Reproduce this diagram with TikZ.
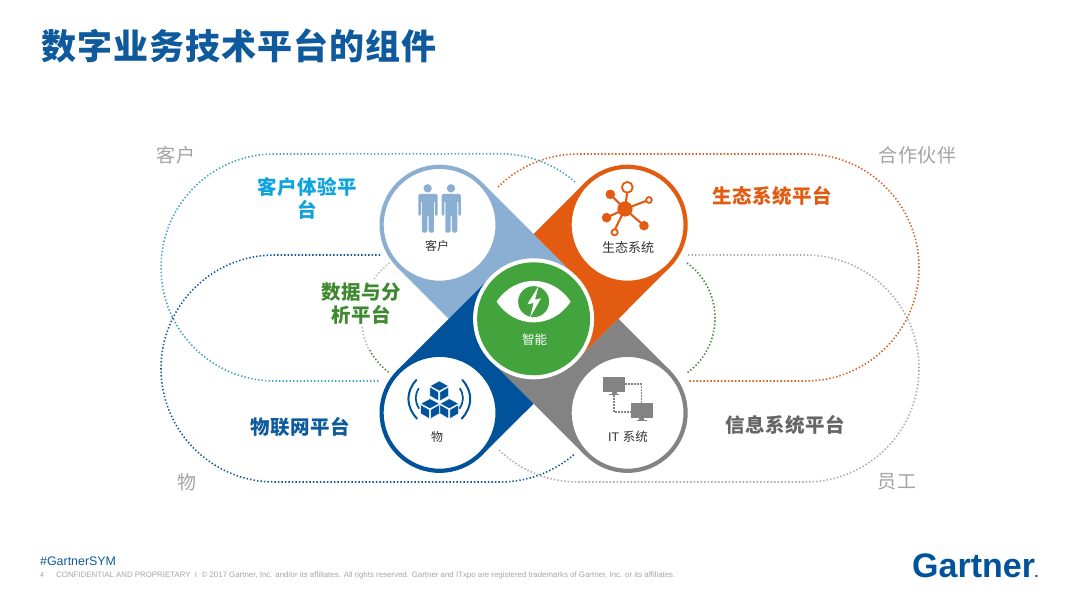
\documentclass[tikz,border=0pt]{standalone}
\usepackage{fontspec}
\setmainfont{Liberation Sans}
\newfontfamily\cjk{Noto Sans CJK SC}
\definecolor{cTeal}{HTML}{3FA5C4}
\definecolor{cSky}{HTML}{0FA3DC}
\definecolor{cLight}{HTML}{8AAFD3}
\definecolor{cOrange}{HTML}{E35B10}
\definecolor{cNavy}{HTML}{00539B}
\definecolor{cGray}{HTML}{838383}
\definecolor{cGreen}{HTML}{43A33C}
\definecolor{cDGreen}{HTML}{3F8A30}
\definecolor{cText}{HTML}{A3A3A3}
\definecolor{cTitle}{HTML}{0E5A9C}
\tikzset{
  x=1pt,y=-1pt,
  dots/.style={line width=1.6pt,dash pattern=on 1.4pt off 2.1pt},
  plat/.style={font=\cjk\bfseries\fontsize{19.5}{23}\selectfont,align=center,inner sep=0pt},
  corner/.style={font=\cjk\fontsize{19}{23}\selectfont,text=cText,inner sep=0pt},
  inring/.style={font=\cjk\fontsize{12}{14}\selectfont,text=black!80,inner sep=0pt},
  zoomed/.style={shift={(340pt,-150pt)},x=0.3333pt,y=-0.3333pt},
  cubeface/.style={fill=cNavy,draw=white,line width=0.45pt,line join=round},
}
\newcommand{\cubeat}[2]{%
  \filldraw[cubeface] (#1,#2-29)--(#1+28,#2-14)--(#1,#2+1)--(#1-28,#2-14)--cycle;
  \filldraw[cubeface] (#1-28,#2-11)--(#1-2,#2+4)--(#1-2,#2+31)--(#1-28,#2+16)--cycle;
  \filldraw[cubeface] (#1+28,#2-11)--(#1+2,#2+4)--(#1+2,#2+31)--(#1+28,#2+16)--cycle;}
\newcommand{\personat}[1]{%
  \begin{scope}[shift={(#1*0.3333pt,0pt)}]
  \fill[cLight] (263,115) circle[radius=4.2pt];
  \fill[cLight,rounded corners=1.5pt] (235,132)--(293,132)--(293,198)--(285,198)--(285,152)--(282,152)--(282,248)--(266,248)--(266,195)--(262,195)--(262,248)--(246,248)--(246,152)--(243,152)--(243,198)--(235,198)--cycle;
  \end{scope}}
\newcommand{\screenat}[2]{%
  \fill[cGray] (#1,#2) rectangle (#1+66,#2+43);
  \fill[cGray] (#1+26,#2+43) rectangle (#1+40,#2+49);
  \fill[cGray] (#1+18,#2+49) rectangle (#1+48,#2+53);}
\begin{document}
\begin{tikzpicture}
\useasboundingbox (0,0) rectangle (1080,608);
\fill[white] (0,0) rectangle (1080,608);

% geometry
\coordinate (cA) at (439.6,224.8);
\coordinate (cB) at (627.6,224.8);
\coordinate (cC) at (627.6,412.8);
\coordinate (cD) at (439.6,412.8);
\coordinate (mid) at (533.6,318.8);
\coordinate (vT) at (533.6,234);
\coordinate (vR) at (618.45,318.8);
\coordinate (vB) at (533.6,403.65);
\coordinate (vL) at (448.75,318.8);
\coordinate (mLT) at (491.2,276.4);
\coordinate (mTR) at (576,276.4);
\coordinate (mRB) at (576,361.2);
\coordinate (mBL) at (491.2,361.2);

% dotted outlines
\draw[dots,cTeal] (575,182) arc[start angle=48.7,end angle=90,radius=113.5pt] -- (274.5,154) arc[start angle=90,end angle=270,radius=113.5pt] -- (380,381);
\draw[dots,cOrange!85!gray] (498,187) arc[start angle=134.8,end angle=90,radius=113.5pt] -- (805.5,154) arc[start angle=90,end angle=-90,radius=113.5pt] -- (688,381);
\draw[dots,cNavy!85!gray] (380,255) -- (274.5,255) arc[start angle=90,end angle=270,radius=113.5pt] -- (500,482) arc[start angle=-90,end angle=-48.7,radius=113.5pt];
\draw[dots,gray!65] (688,255) -- (805.5,255) arc[start angle=90,end angle=-90,radius=113.5pt] -- (578,482) arc[start angle=-90,end angle=-134.8,radius=113.5pt];
\draw[dots,cDGreen!85!gray] (687,263) arc[start angle=54,end angle=-54,radius=68pt];
\draw[dots,cDGreen!30!gray!50] (389.7,263) arc[start angle=126,end angle=146,radius=68pt];
\draw[dots,cDGreen!35!gray!55] (362.1,327) arc[start angle=187,end angle=208,radius=68pt];
\draw[dots,cDGreen!70!gray] (369.7,350) arc[start angle=208,end angle=234,radius=68pt];

% pinwheel bands
\fill[cLight] (482,182.4) -- (vT) -- (mTR) -- (mid) -- (mLT) -- (vL) -- (397.2,267.2) -- cycle;
\fill[cOrange] (585.2,182.4) -- (vT) -- (mTR) -- (mid) -- (mRB) -- (vR) -- (670,267.2) -- cycle;
\fill[cGray] (670,370.4) -- (vR) -- (mRB) -- (mid) -- (mBL) -- (vB) -- (585.2,455.2) -- cycle;
\fill[cNavy] (482,455.2) -- (vB) -- (mBL) -- (mid) -- (mLT) -- (vL) -- (397.2,370.4) -- cycle;

% rings
\draw[cLight,fill=white,line width=4.2pt] (cA) circle[radius=58pt];
\draw[cOrange,fill=white,line width=4.2pt] (cB) circle[radius=58pt];
\draw[cGray,fill=white,line width=4.2pt] (cC) circle[radius=58pt];
\draw[cNavy,fill=white,line width=4.2pt] (cD) circle[radius=58pt];
\fill[white] (mid) circle[radius=60.5pt];
\fill[cGreen] (mid) circle[radius=56.5pt];

% icons, in a local frame
\begin{scope}[zoomed]
  % people
  \personat{0}
  \personat{70}
  % ecosystem
  \begin{scope}[cOrange]
    \draw[line width=2.1pt] (855,177) -- (862,125);
    \draw[line width=2.1pt] (855,177) -- (918,153);
    \draw[line width=2.1pt] (855,177) -- (811,133);
    \draw[line width=2.1pt] (855,177) -- (800,203);
    \draw[line width=2.1pt] (855,177) -- (912,227);
    \draw[line width=2.1pt] (855,177) -- (824,240);
    \fill (855,177) circle[radius=7.6pt];
    \fill (811,133) circle[radius=4.8pt];
    \fill (800,203) circle[radius=4.8pt];
    \fill (912,227) circle[radius=4.8pt];
    \draw[line width=1.8pt,fill=white] (862,112) circle[radius=5.4pt];
    \draw[line width=1.8pt,fill=white] (927,150) circle[radius=2.9pt];
    \draw[line width=1.8pt,fill=white] (824,247) circle[radius=3.1pt];
  \end{scope}
  % cubes and waves
  \cubeat{298}{722}
  \cubeat{270}{775}
  \cubeat{328}{775}
  \begin{scope}[cNavy,line cap=round]
    \draw[line width=2pt] (229,690) .. controls (197,725) and (197,770) .. (231,806);
    \draw[line width=1.7pt] (236,716) .. controls (224,735) and (224,755) .. (237,775);
    \draw[line width=2pt] (367,690) .. controls (399,725) and (399,770) .. (365,806);
    \draw[line width=1.7pt] (360,716) .. controls (372,735) and (372,755) .. (359,775);
  \end{scope}
  % screens
  \screenat{790}{682}
  \screenat{872}{760}
  \draw[cGray,line width=1.7pt,dash pattern=on 1.6pt off 1.4pt] (856,703) -- (905,703) -- (905,760);
  \draw[cGray,line width=1.7pt,dash pattern=on 1.6pt off 1.4pt] (822,736) -- (822,786) -- (872,786);
  % eye
  \fill[white] (470,455) .. controls (525,372) and (637,372) .. (692,455) .. controls (637,538) and (525,538) .. (470,455) -- cycle;
  \fill[cGreen] (581,455) circle[radius=15.5pt];
  \fill[white] (596,408) -- (562,463) -- (581,459) -- (570,503) -- (603,445) -- (585,449) -- cycle;
\end{scope}

% labels in the rings
\node[inring] (lA) at (437,246) {客户};
\node[inring,font=\cjk\fontsize{13}{15}\selectfont] (lB) at (628,248) {生态系统};
\node[inring] (lD) at (437,437) {物};
\node[inring,font=\fontsize{12.5}{15}\selectfont] (lC) at (628,437) {IT {\cjk 系统}};
\node[inring,text=white,font=\cjk\fontsize{12.5}{15}\selectfont] (lM) at (534.5,340) {智能};

% platform labels
\node[plat,text=cSky,text width=110pt] (p1) at (307,198.5) {\addfontfeature{LetterSpace=2.5}客户体验平\\台};
\node[plat,text=cOrange] (p2) at (772,196) {\addfontfeature{LetterSpace=2.5}生态系统平台};
\node[plat,text=cDGreen,text width=90pt] (p3) at (361,304) {\addfontfeature{LetterSpace=2}数据与分\\析平台};
\node[plat,text=cTitle] (p4) at (300,427) {\addfontfeature{LetterSpace=2.5}物联网平台};
\node[plat,text=black!60] (p5) at (785,425) {\addfontfeature{LetterSpace=2.5}信息系统平台};

% corner labels
\node[corner] (c1) at (176,155) {\addfontfeature{LetterSpace=3}客户};
\node[corner] (c2) at (917.5,155) {\addfontfeature{LetterSpace=3}合作伙伴};
\node[corner] (c3) at (187,482) {物};
\node[corner] (c4) at (897,482) {\addfontfeature{LetterSpace=3}员工};

% title
\node[anchor=center,inner sep=0pt,text=cTitle,font=\cjk\bfseries\fontsize{35}{40}\selectfont] (title) at (239,46) {\addfontfeature{LetterSpace=3}数字业务技术平台的组件};

% footer
\node[anchor=west,inner sep=0pt,text=cTitle,font=\fontsize{12.4}{14}\selectfont] (tag) at (40,561) {\#GartnerSYM};
\node[anchor=west,inner sep=0pt,text=black!35,font=\fontsize{7}{9}\selectfont] (pg) at (40,575.5) {4};
\node[anchor=west,inner sep=0pt,text=black!35,font=\fontsize{7.87}{9}\selectfont] (legal) at (56,575.5) {CONFIDENTIAL AND PROPRIETARY\ \ I\ \ © 2017 Gartner, Inc. and/or its affiliates. All rights reserved. Gartner and ITxpo are registered trademarks of Gartner, Inc. or its affiliates.};
\node[anchor=west,inner sep=0pt,text=cNavy,font=\bfseries\fontsize{34}{38}\selectfont] (logo) at (912,566) {Gartner\hspace{-0.5pt}{\fontsize{14}{14}\selectfont.}};
\end{tikzpicture}
\end{document}
